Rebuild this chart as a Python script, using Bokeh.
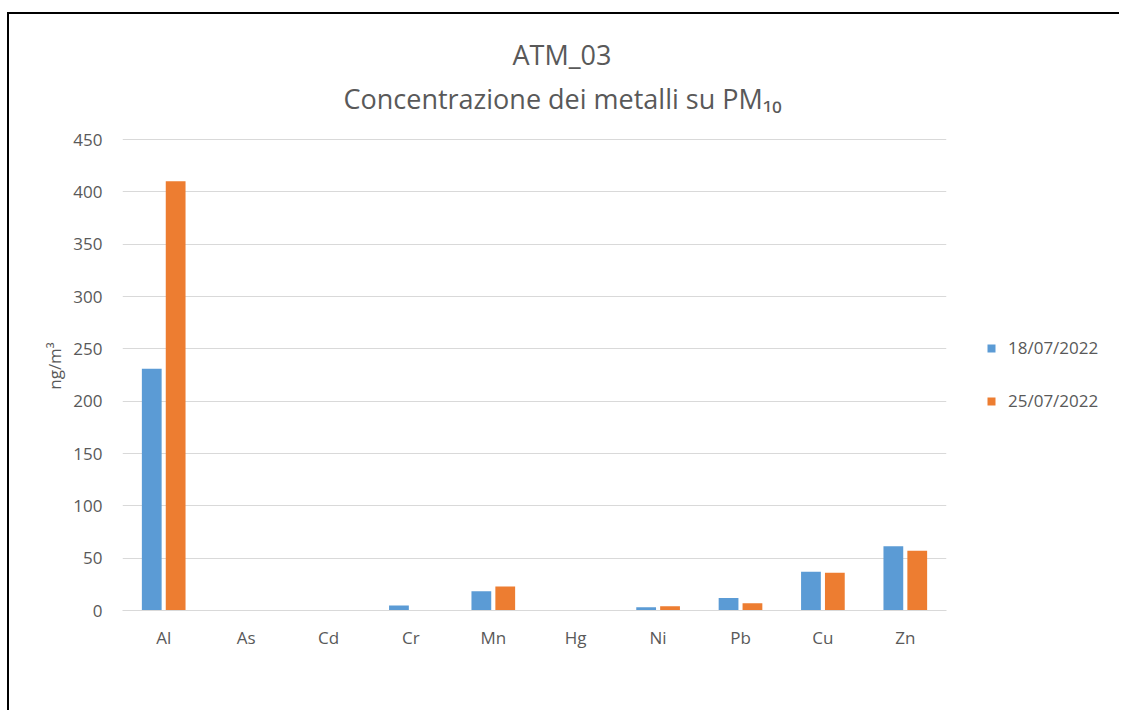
from bokeh.plotting import figure
from bokeh.layouts import row
from bokeh.models import (ColumnDataSource, FactorRange, Range1d, Legend, LegendItem,
                          Title, SingleIntervalTicker)
from bokeh.transform import dodge
from bokeh.embed import file_html
from bokeh.resources import INLINE

# ---- data ----
metals = ["Al", "As", "Cd", "Cr", "Mn", "Hg", "Ni", "Pb", "Cu", "Zn"]
series_names = ["18/07/2022", "25/07/2022"]
v_1807 = [231, 0, 0, 4.8, 18.5, 0, 3.2, 12, 37, 61.5]
v_2507 = [410, 0, 0, 0, 23, 0, 4.1, 7, 36, 57]
y_ticks_step = 50

FONT = "Open Sans"
TXT = "#595959"
GRID = "#D9D9D9"
BLUE = "#5B9BD5"
ORANGE = "#ED7D31"

src = ColumnDataSource(dict(metal=metals, a=v_1807, b=v_2507))

p = figure(width=960, height=696, x_range=FactorRange(*metals, range_padding=0),
           y_range=Range1d(0, 467.2), output_backend="svg", toolbar_location=None,
           min_border_left=113, min_border_right=23, min_border_top=107,
           min_border_bottom=100, outline_line_color=None)

p.vbar(x=dodge("metal", -0.145, range=p.x_range), top="a", width=0.24,
       source=src, color=BLUE, line_color=None)
p.vbar(x=dodge("metal", 0.145, range=p.x_range), top="b", width=0.24,
       source=src, color=ORANGE, line_color=None)

# titles (added closest-first)
t2 = Title(text="Concentrazione dei metalli su PM\u2081\u2080", align="left",
           text_font=FONT, text_font_size="27px", text_color=TXT,
           text_font_style="normal", standoff=10, offset=221)
t1 = Title(text="ATM_03", align="left", text_font=FONT, text_font_size="27px",
           text_color=TXT, text_font_style="normal", standoff=0, offset=390)
p.add_layout(t2, "above")
p.add_layout(t1, "above")

# axes
p.xaxis.axis_line_color = GRID
p.xaxis.major_tick_line_color = None
p.xaxis.minor_tick_line_color = None
p.xaxis.major_label_standoff = 9
p.xaxis.major_label_text_font = FONT
p.xaxis.major_label_text_font_size = "17px"
p.xaxis.major_label_text_color = TXT

p.yaxis.ticker = SingleIntervalTicker(interval=y_ticks_step)
p.yaxis.axis_line_color = None
p.yaxis.major_tick_line_color = None
p.yaxis.minor_tick_line_color = None
p.yaxis.major_label_standoff = 14
p.yaxis.major_label_text_font = FONT
p.yaxis.major_label_text_font_size = "17px"
p.yaxis.major_label_text_color = TXT
p.yaxis.axis_label = "ng/m\u00b3"
p.yaxis.axis_label_text_font = FONT
p.yaxis.axis_label_text_font_size = "17px"
p.yaxis.axis_label_text_font_style = "normal"
p.yaxis.axis_label_text_color = TXT
p.yaxis.axis_label_standoff = 4

p.xgrid.grid_line_color = None
p.ygrid.grid_line_color = GRID
p.ygrid.grid_line_width = 1

# legend panel (separate figure; its renderers are hidden, only swatches show)
pl = figure(width=150, height=696, x_range=Range1d(0, 1), y_range=Range1d(0, 1),
            output_backend="svg", toolbar_location=None, min_border=0,
            outline_line_color=None)
pl.axis.visible = False
pl.grid.visible = False
s1 = pl.vbar(x="a", top="a", width=0.1, source=src, color=BLUE, line_color=None,
             visible=False)
s2 = pl.vbar(x="b", top="b", width=0.1, source=src, color=ORANGE, line_color=None,
             visible=False)
legend = Legend(items=[LegendItem(label=series_names[0], renderers=[s1]),
                       LegendItem(label=series_names[1], renderers=[s2])],
                location=(17, 198), orientation="vertical", margin=0, padding=0,
                spacing=30, glyph_width=10, glyph_height=10, label_standoff=12,
                label_text_font=FONT, label_text_font_size="17px",
                label_text_color=TXT, border_line_color=None,
                background_fill_alpha=0, inactive_fill_alpha=0)
pl.add_layout(legend, "center")

layout = row(p, pl, styles={"border-top": "2px solid #000",
                            "border-left": "2px solid #000",
                            "margin-top": "12px", "margin-left": "7px"})

open("out.html", "w").write(file_html(layout, INLINE))
